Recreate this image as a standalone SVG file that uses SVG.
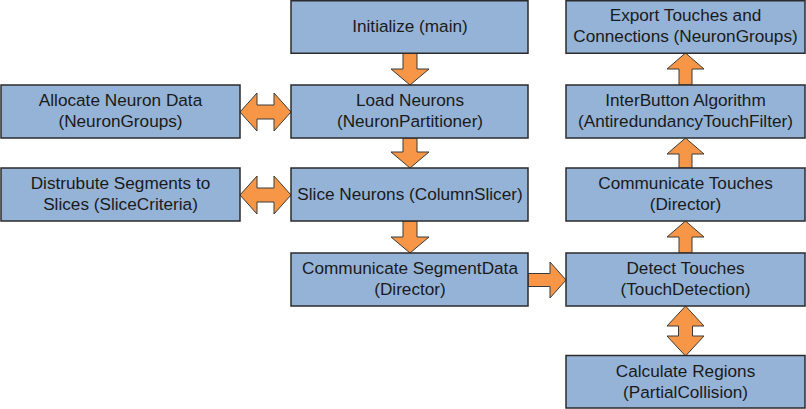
<svg xmlns="http://www.w3.org/2000/svg" width="806" height="409" viewBox="0 0 806 409">
<style>
.box{fill:#95B3D7;stroke:#2b2b2b;stroke-width:1.5}
.arr{fill:#F79646;stroke:#3a3a3a;stroke-width:1}
text{font-family:"Liberation Sans",Arial,sans-serif;font-size:17.2px;fill:#1a1a1a;text-anchor:middle}
</style>
<rect width="806" height="409" fill="#ffffff"/>
<g id="connectors">
<path class="arr" d="M403 53H417V69H429L410 85L391 69H403Z"/>
<path class="arr" d="M403 138H417V152H429L410 168L391 152H403Z"/>
<path class="arr" d="M403 221H417V237H429L410 253L391 237H403Z"/>
<path class="arr" d="M528 273.5V286.5H550V298L566 280L550 262V273.5Z"/>
<path class="arr" d="M679 253V237H667L685.5 221L704 237H692V253Z"/>
<path class="arr" d="M679 168V154H667L685.5 138L704 154H692V168Z"/>
<path class="arr" d="M679 85V69H667L685.5 53L704 69H692V85Z"/>
<path class="arr" d="M240 112L257 93V105H274V93L291 112L274 131V119H257V131Z"/>
<path class="arr" d="M240 195L257 176V188H274V176L291 195L274 214V202H257V214Z"/>
<path class="arr" d="M685.5 306L704 326H692.5V336H704L685.5 356L667 336H678.5V326H667Z"/>
</g>
<g id="initialize"><rect class="box" x="291" y="0.75" width="237" height="52.5"/><text x="410" y="32">Initialize (main)</text></g>
<g id="load"><rect class="box" x="291" y="85" width="237" height="53"/><text x="410" y="106">Load Neurons</text><text x="410" y="127">(NeuronPartitioner)</text></g>
<g id="slice"><rect class="box" x="291" y="168" width="237" height="53"/><text x="410" y="200">Slice Neurons (ColumnSlicer)</text></g>
<g id="commseg"><rect class="box" x="291" y="253" width="237" height="53"/><text x="410" y="274">Communicate SegmentData</text><text x="410" y="295">(Director)</text></g>
<g id="allocate"><rect class="box" x="1" y="85" width="239" height="53"/><text x="120.5" y="106">Allocate Neuron Data</text><text x="120.5" y="127">(NeuronGroups)</text></g>
<g id="distribute"><rect class="box" x="1" y="168" width="239" height="53"/><text x="120.5" y="189">Distrubute Segments to</text><text x="120.5" y="210">Slices (SliceCriteria)</text></g>
<g id="export"><rect class="box" x="566" y="0.75" width="239" height="52.5"/><text x="685.5" y="21">Export Touches and</text><text x="685.5" y="42">Connections (NeuronGroups)</text></g>
<g id="interbutton"><rect class="box" x="566" y="85" width="239" height="53"/><text x="685.5" y="106">InterButton Algorithm</text><text x="685.5" y="127">(AntiredundancyTouchFilter)</text></g>
<g id="commtouch"><rect class="box" x="566" y="168" width="239" height="53"/><text x="685.5" y="189">Communicate Touches</text><text x="685.5" y="210">(Director)</text></g>
<g id="detect"><rect class="box" x="566" y="253" width="239" height="53"/><text x="685.5" y="274">Detect Touches</text><text x="685.5" y="295">(TouchDetection)</text></g>
<g id="calculate"><rect class="box" x="566" y="355.5" width="239" height="52.5"/><text x="685.5" y="377">Calculate Regions</text><text x="685.5" y="398">(PartialCollision)</text></g>
</svg>
